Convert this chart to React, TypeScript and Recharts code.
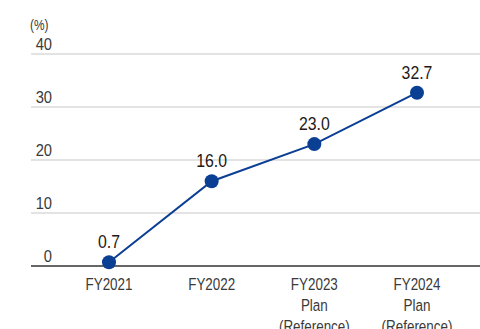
import React from "react";
import { LineChart, Line, XAxis, YAxis, CartesianGrid, LabelList } from "recharts";

const categories = ["FY2021", "FY2022", "FY2023\nPlan\n(Reference)", "FY2024\nPlan\n(Reference)"];
const values = [0.7, 16.0, 23.0, 32.7];
const yTicks = [0, 10, 20, 30, 40];

const data = categories.map((c, i) => ({ name: c, value: values[i] }));

const FONT = "'Liberation Sans', Arial, sans-serif";

const YTick = (props: any) => {
  const { y, payload } = props;
  return (
    <g transform={`translate(52, ${y - 4}) scale(0.92, 1)`}>
      <text x={0} y={0} textAnchor="end" fontFamily={FONT} fontSize={16} fill="#3a3a3a">
        {payload.value}
      </text>
    </g>
  );
};

const XTick = (props: any) => {
  const { x, y, payload } = props;
  const lines = String(payload.value).split("\n");
  return (
    <g transform={`translate(${x}, ${y}) scale(0.79, 1)`}>
      <text x={0} y={0} textAnchor="middle" fontFamily={FONT} fontSize={17} fill="#3a3a3a">
        {lines.map((l, i) => (
          <tspan key={i} x={0} y={16 + i * 21}>
            {l}
          </tspan>
        ))}
      </text>
    </g>
  );
};

const ValueLabel = (props: any) => {
  const { x, y, value } = props;
  return (
    <g transform={`translate(${x}, ${y - 14}) scale(0.88, 1)`}>
      <text x={0} y={0} textAnchor="middle" fontFamily={FONT} fontSize={18} fill="#231815">
        {Number(value).toFixed(1)}
      </text>
    </g>
  );
};

export default function App() {
  return (
    <div style={{ position: "absolute", left: 0, top: 0, width: 480, height: 329 }}>
      <svg style={{ position: "absolute", left: 0, top: 0 }} width={480} height={40}>
        <g transform="translate(30, 30) scale(0.85, 1)">
          <text x={0} y={0} fontFamily={FONT} fontSize={14} fill="#3a3a3a">(%)</text>
        </g>
      </svg>
      <LineChart
        width={480}
        height={329}
        data={data}
        margin={{ top: 54, right: 0, bottom: 0, left: 0 }}
      >
        <CartesianGrid horizontal vertical={false} stroke="#c8c8c8" strokeWidth={1.2} />
        <XAxis
          dataKey="name"
          height={63}
          padding={{ left: 78, right: 63 }}
          axisLine={{ stroke: "#666", strokeWidth: 2 }}
          tickLine={false}
          tick={<XTick />}
          interval={0}
        />
        <YAxis
          width={31}
          domain={[0, 40]}
          ticks={yTicks}
          axisLine={false}
          tickLine={false}
          tick={<YTick />}
        />
        <Line
          dataKey="value"
          stroke="#0b3f94"
          strokeWidth={2}
          dot={{ r: 7, fill: "#0b3f94", stroke: "#0b3f94", strokeWidth: 0 }}
          isAnimationActive={false}
        >
          <LabelList dataKey="value" content={<ValueLabel />} />
        </Line>
      </LineChart>
    </div>
  );
}
